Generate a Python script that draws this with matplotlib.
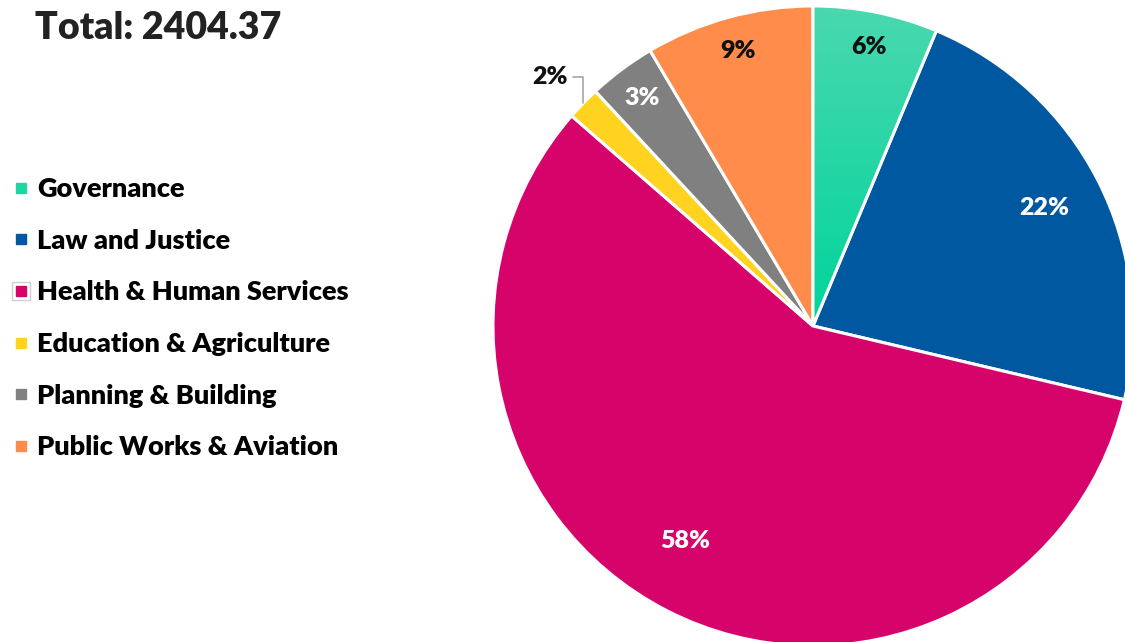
import numpy as np
import matplotlib
matplotlib.use("Agg")
import matplotlib.pyplot as plt
from matplotlib.lines import Line2D
from matplotlib.patches import Wedge
from matplotlib.colors import LinearSegmentedColormap
from matplotlib.legend_handler import HandlerTuple

plt.rcParams['font.family'] = ['Lato', 'DejaVu Sans']

# data
categories = ['Governance', 'Law and Justice', 'Health & Human Services',
              'Education & Agriculture', 'Planning & Building', 'Public Works & Aviation']
values = [151.5, 538.6, 1387.3, 40.9, 81.7, 204.37]
pct_labels = ['6%', '22%', '58%', '2%', '3%', '9%']
total_label = 'Total: 2404.37'

colors = ['#1ED6A4', '#0058A0', '#D6036B', '#FFD320', '#808080', '#FF8C4A']
label_colors = ['#111111', 'white', 'white', '#111111', 'white', '#111111']
# label placement: radius fraction and angle nudge (deg)
label_radius = [0.89, 0.81, 0.78, None, 0.89, 0.89]
label_nudge = [0, 0, -3.5, 0, 0, 0]

W = 'heavy'

fig = plt.figure(figsize=(11.25, 6.42), dpi=100)
ax = fig.add_axes([0.4382, -0.0062, 0.5689, 0.9969])

wedges, _ = ax.pie(values, colors=colors, startangle=90, counterclock=False,
                   radius=1.0, wedgeprops=dict(edgecolor='white', linewidth=2.2))
ax.set_xlim(-1, 1)
ax.set_ylim(-1, 1)
ax.set_aspect('equal')
ax.axis('off')

# gradient fill on the governance slice
grad = LinearSegmentedColormap.from_list('g', ['#00D49B', '#4AD8AF'])
img = ax.imshow(np.linspace(0, 1, 256).reshape(-1, 1), cmap=grad, origin='lower',
                extent=[-1, 1, 0, 1], aspect='auto', zorder=wedges[0].get_zorder() + 0.1)
img.set_clip_path(wedges[0])
edge = Wedge((0, 0), 1.0, wedges[0].theta1, wedges[0].theta2,
             facecolor='none', edgecolor='white', linewidth=2.2,
             zorder=img.get_zorder() + 0.1)
ax.add_patch(edge)

for i, w in enumerate(wedges):
    ang = np.deg2rad((w.theta1 + w.theta2) / 2 + label_nudge[i])
    if label_radius[i] is None:
        xy = (np.cos(ang), np.sin(ang))
        ax.annotate(pct_labels[i], xy=xy, xytext=(-0.822, 0.778),
                    ha='center', va='center', fontsize=18, fontweight=W,
                    color=label_colors[i],
                    arrowprops=dict(arrowstyle='-', color='#A6A6A6', lw=1.2,
                                    connectionstyle='angle,angleA=0,angleB=90,rad=0',
                                    shrinkA=2, shrinkB=0))
    else:
        r = label_radius[i]
        ax.text(r * np.cos(ang), r * np.sin(ang), pct_labels[i], ha='center', va='center',
                fontsize=18, fontweight=W, color=label_colors[i])

fig.text(0.031, 0.957, total_label, fontsize=27, fontweight=W, color='#222222',
         ha='left', va='center')

handles = []
for i, c in enumerate(colors):
    inner = Line2D([], [], marker='s', linestyle='none', markersize=7.5,
                   markerfacecolor=c, markeredgecolor=c)
    if i == 2:
        outer = Line2D([], [], marker='s', linestyle='none', markersize=13,
                       markerfacecolor='white', markeredgecolor='#CFCFCF', markeredgewidth=1)
        handles.append((outer, inner))
    else:
        handles.append(inner)

fig.legend(handles, categories, loc='upper left', bbox_to_anchor=(-0.001, 0.741),
           frameon=False, prop=dict(size=19.5, weight=W), handlelength=0.8,
           handletextpad=0.2, labelspacing=1.02, borderaxespad=0,
           handler_map={tuple: HandlerTuple(ndivide=1, pad=0)})

fig.savefig('out.png', dpi=100)
